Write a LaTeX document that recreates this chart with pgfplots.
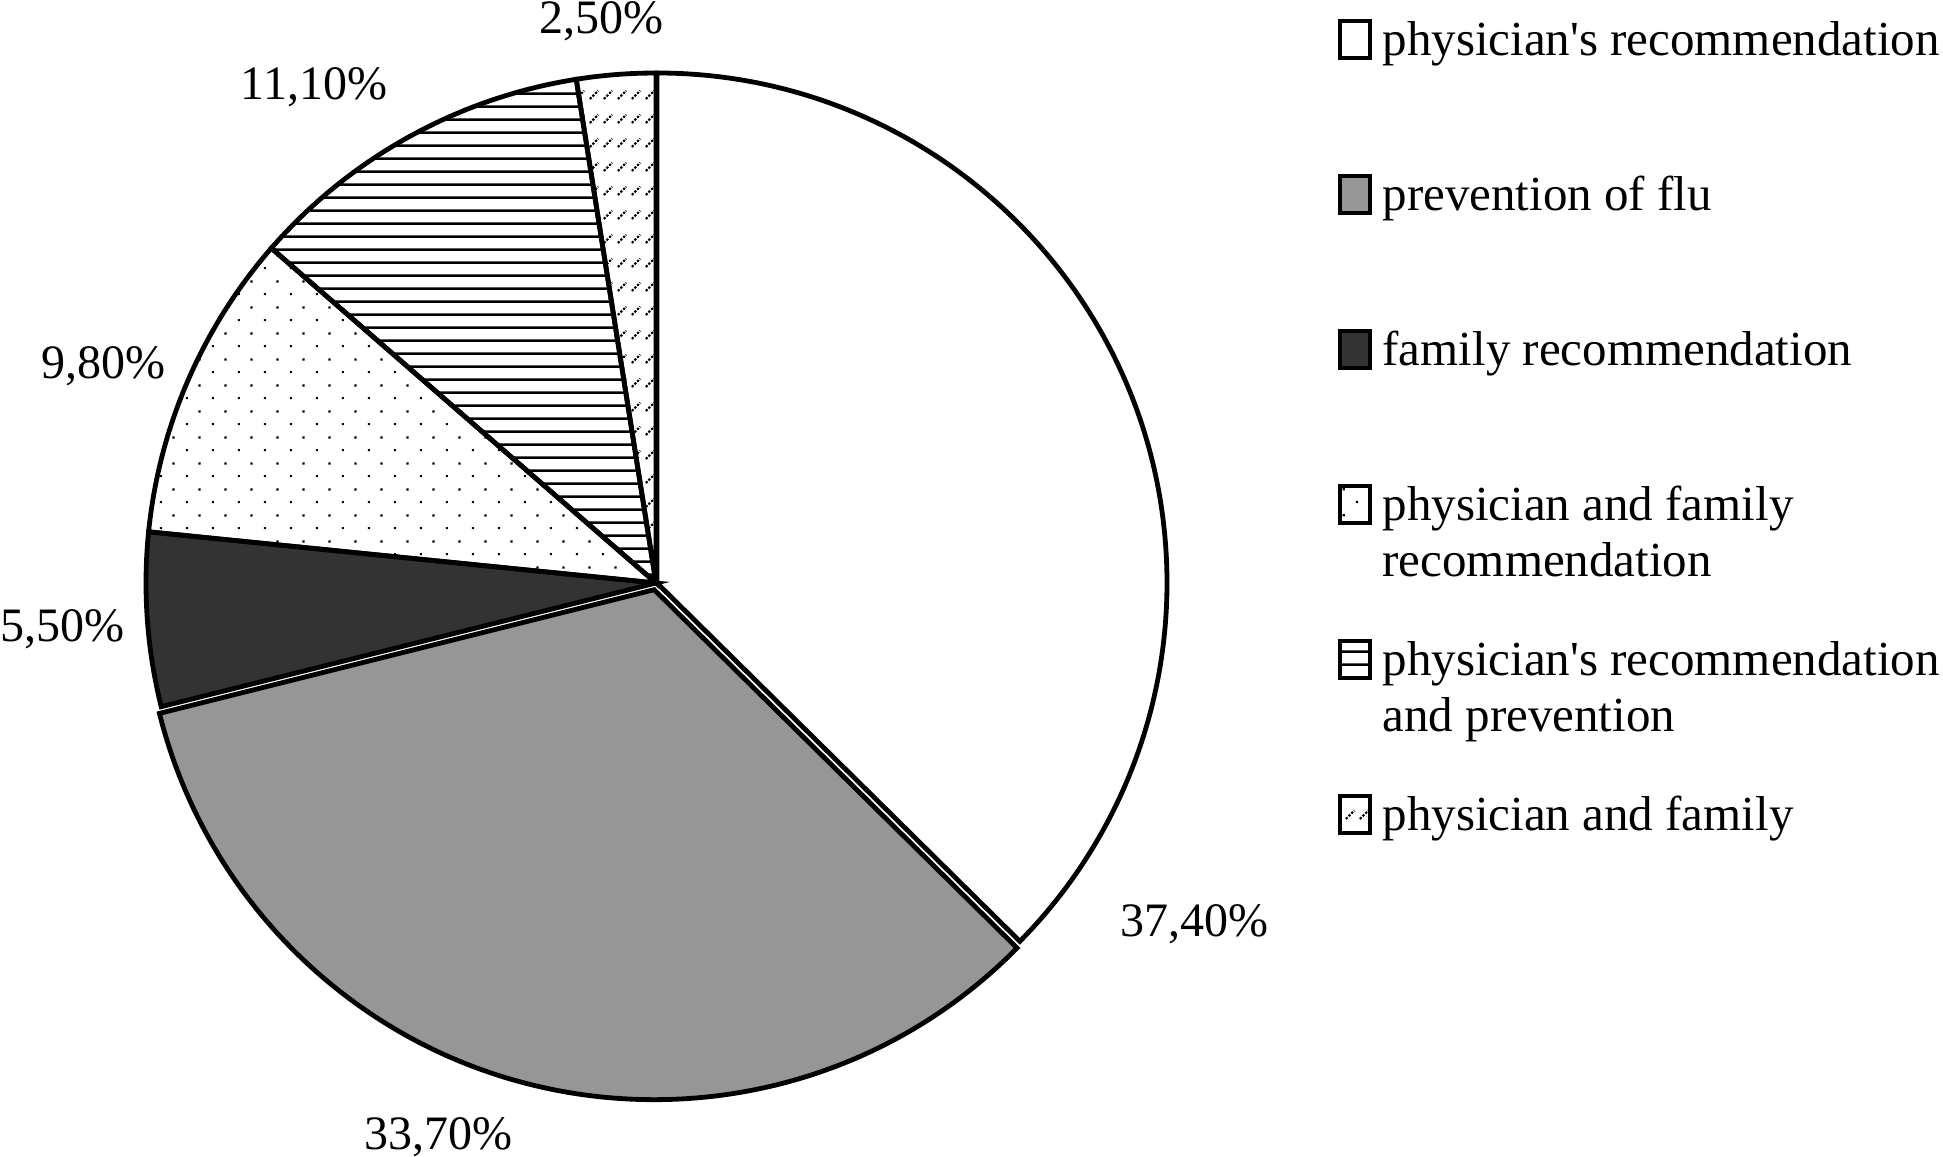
\documentclass[border=0pt]{standalone}
\usepackage{fontspec}
\setmainfont{Liberation Serif}
\usepackage{pgfplots}
\pgfplotsset{compat=1.18}
\usetikzlibrary{patterns}
\definecolor{pgray}{RGB}{150,150,150}
\definecolor{pdark}{RGB}{51,51,51}
\pgfdeclarepatternformonly{sparsedots}{\pgfqpoint{0pt}{0pt}}{\pgfqpoint{6.5pt}{6.5pt}}{\pgfqpoint{6.5pt}{6.5pt}}{%
  \pgfpathrectangle{\pgfqpoint{1pt}{1pt}}{\pgfqpoint{0.55pt}{0.55pt}}%
  \pgfpathrectangle{\pgfqpoint{4.25pt}{4.25pt}}{\pgfqpoint{0.55pt}{0.55pt}}%
  \pgfusepath{fill}}
\pgfdeclarepatternformonly{hlinesB}{\pgfqpoint{0pt}{0pt}}{\pgfqpoint{3.2pt}{3.2pt}}{\pgfqpoint{3.2pt}{3.2pt}}{%
  \pgfsetlinewidth{0.65pt}%
  \pgfpathmoveto{\pgfqpoint{-0.1pt}{1.6pt}}\pgfpathlineto{\pgfqpoint{3.3pt}{1.6pt}}%
  \pgfusepath{stroke}}
\pgfdeclarepatternformonly{dashdiag}{\pgfqpoint{0pt}{0pt}}{\pgfqpoint{3.5pt}{6pt}}{\pgfqpoint{3.5pt}{6pt}}{%
  \pgfsetlinewidth{0.55pt}%
  \pgfsetdash{{0.6pt}{0.4pt}}{0pt}%
  \pgfpathmoveto{\pgfqpoint{0.5pt}{0.5pt}}\pgfpathlineto{\pgfqpoint{2.7pt}{2.7pt}}%
  \pgfusepath{stroke}}

% running total of shares (percent)
\gdef\cum{0}
\newcommand\pieslice[4]{% #1 cx, #2 cy, #3 share, #4 style
  \pgfmathsetmacro\pa{90-3.6*\cum}%
  \pgfmathsetmacro\pb{90-3.6*(\cum+#3)}%
  \edef\tmp{\noexpand\draw[\unexpanded{#4}] (axis cs:#1,#2) -- ++(\pa:127.5pt) arc[start angle=\pa, end angle=\pb, radius=127.5pt] -- cycle;}%
  \tmp
  \pgfmathsetmacro\newcum{\cum+#3}%
  \xdef\cum{\newcum}}

\begin{document}
\begin{tikzpicture}
\begin{axis}[
  width=485.75pt, height=289.25pt, scale only axis,
  xmin=0, xmax=1943, ymin=0, ymax=1157,
  hide axis, clip=false,
  legend image code/.code={\draw[#1, line width=1.1pt] (0.5pt,-0.5pt) rectangle (8pt,8.7pt);},
  legend style={at={(axis cs:1337,1141)}, anchor=north west, draw=none, fill=none,
    inner sep=0pt, row sep=27.45pt,
    nodes={inner ysep=0pt, inner xsep=2.6pt, anchor=base west},
    font=\fontsize{12.25}{14}\selectfont},
  legend cell align=left,
]
\addlegendimage{fill=white}
\addlegendentry{\parbox[t]{150pt}{\strut physician\textquotesingle s recommendation\\\strut}}
\addlegendimage{fill=pgray}
\addlegendentry{\parbox[t]{150pt}{\strut prevention of flu\\\strut}}
\addlegendimage{fill=pdark}
\addlegendentry{\parbox[t]{150pt}{\strut family recommendation\\\strut}}
\addlegendimage{pattern=sparsedots}
\addlegendentry{\parbox[t]{150pt}{\strut physician and family\\\strut recommendation}}
\addlegendimage{pattern=hlinesB}
\addlegendentry{\parbox[t]{150pt}{\strut physician\textquotesingle s recommendation\\\strut and prevention}}
\addlegendimage{pattern=dashdiag}
\addlegendentry{\parbox[t]{150pt}{\strut physician and family\\\strut}}

% slices (shares in percent, clockwise from 12 o'clock)
\pieslice{657}{574}{37.4}{draw=black, line width=1.2pt, fill=white}
\pieslice{654.2}{567.3}{33.7}{draw=black, line width=1.2pt, fill=pgray}
\pieslice{656}{574}{5.5}{draw=black, line width=1.2pt, fill=pdark}
\pieslice{656}{574}{9.8}{draw=black, line width=1.2pt, pattern=sparsedots}
\pieslice{656}{574}{11.1}{draw=black, line width=1.2pt, pattern=hlinesB}
\pieslice{656}{574}{2.5}{draw=black, line width=1.2pt, pattern=dashdiag}

\begin{scope}[every node/.style={font=\fontsize{12}{14}\selectfont, anchor=base, inner sep=0pt}]
\node at (axis cs:1194,220) {37,40\%};
\node at (axis cs:438,7) {33,70\%};
\node at (axis cs:62,515) {5,50\%};
\node at (axis cs:103,778) {9,80\%};
\node at (axis cs:314,1057) {11,10\%};
\node at (axis cs:601,1123) {2,50\%};
\end{scope}
\end{axis}
\pgfresetboundingbox
\path (current axis.south west) rectangle (current axis.north east);
\end{tikzpicture}
\end{document}
